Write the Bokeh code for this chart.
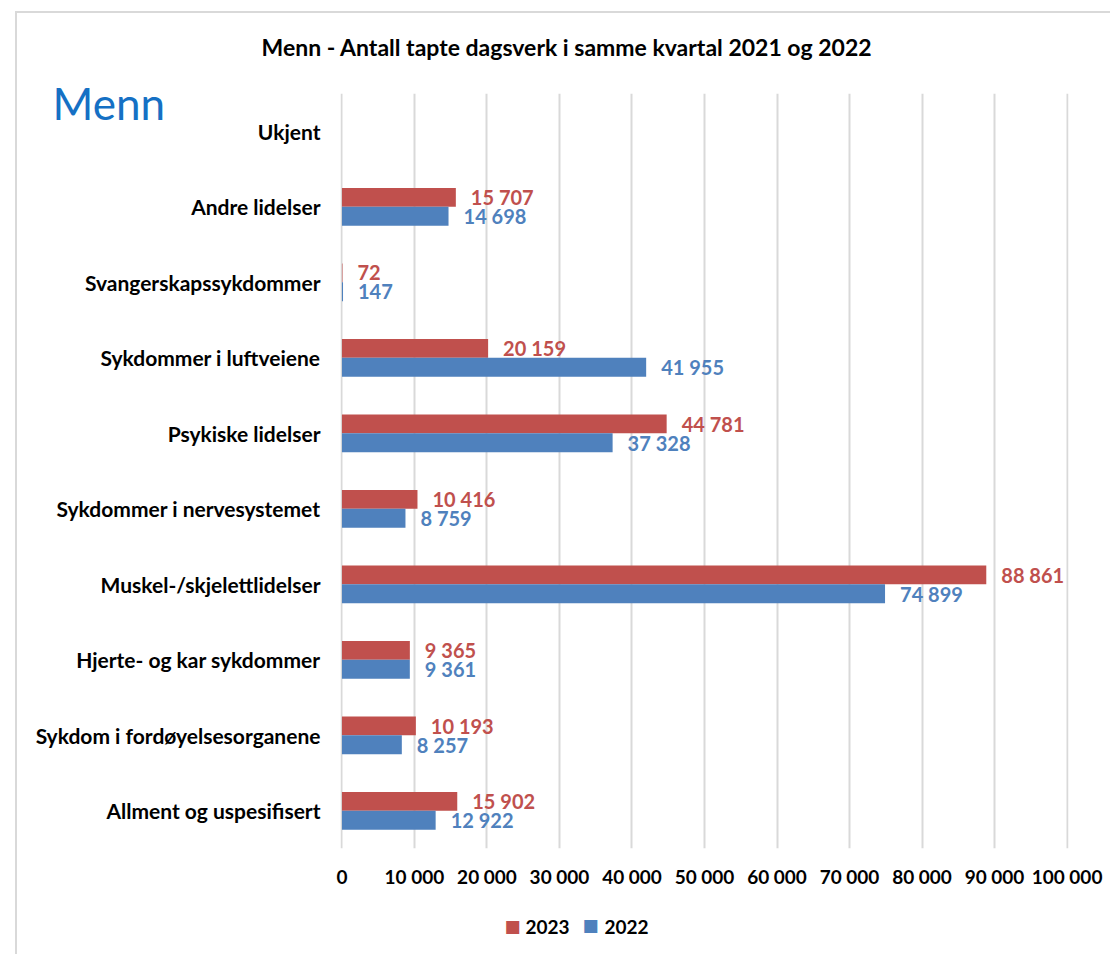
from bokeh.plotting import figure
from bokeh.models import (ColumnDataSource, FactorRange, FixedTicker, Label)
from bokeh.transform import dodge
from bokeh.core.properties import value
from bokeh.embed import file_html
from bokeh.resources import INLINE

categories = ["Ukjent", "Andre lidelser", "Svangerskapssykdommer", "Sykdommer i luftveiene",
              "Psykiske lidelser", "Sykdommer i nervesystemet", "Muskel-/skjelettlidelser",
              "Hjerte- og kar sykdommer", "Sykdom i fordøyelsesorganene", "Allment og uspesifisert"]
v2023 = [float("nan"), 15707, 72, 20159, 44781, 10416, 88861, 9365, 10193, 15902]
v2022 = [float("nan"), 14698, 147, 41955, 37328, 8759, 74899, 9361, 8257, 12922]
series = ["2023", "2022"]
x_ticks = [0, 10000, 20000, 30000, 40000, 50000, 60000, 70000, 80000, 90000, 100000]

RED = "#C0504D"
BLUE = "#4F81BD"
FONT = "Lato"


def fmt(v):
    if v != v:
        return ""
    return f"{int(v):,}".replace(",", " ")


src = ColumnDataSource(dict(
    cat=categories,
    v2023=v2023,
    v2022=v2022,
    t2023=[fmt(v) for v in v2023],
    t2022=[fmt(v) for v in v2022],
))

# canvas origin sits at page (17, 13) because of the CSS margin + border
p = figure(width=1095, height=943, output_backend="svg", toolbar_location=None,
           title=None,
           y_range=FactorRange(factors=list(reversed(categories)), range_padding=0),
           x_range=(-200, 100200),
           min_border_left=323, min_border_right=44, min_border_top=80, min_border_bottom=108)
p.styles = {"margin-left": "15px", "margin-top": "11px",
            "border-left": "2px solid #D9D9D9", "border-top": "2px solid #D9D9D9"}

r23 = p.hbar(y=dodge("cat", 0.125, range=p.y_range), right="v2023", left=0, height=0.25,
             source=src, fill_color=RED, line_color=None)
r22 = p.hbar(y=dodge("cat", -0.125, range=p.y_range), right="v2022", left=0, height=0.25,
             source=src, fill_color=BLUE, line_color=None)

p.text(x="v2023", y=dodge("cat", 0.125, range=p.y_range), text="t2023", source=src,
       x_offset=15, text_baseline="middle", text_align="left", text_color=RED,
       text_font=value(FONT), text_font_style="bold", text_font_size="20px")
p.text(x="v2022", y=dodge("cat", -0.125, range=p.y_range), text="t2022", source=src,
       x_offset=15, text_baseline="middle", text_align="left", text_color=BLUE,
       text_font=value(FONT), text_font_style="bold", text_font_size="20px")

p.outline_line_color = None
p.ygrid.grid_line_color = None
p.xgrid.grid_line_color = "#D9D9D9"
p.xgrid.grid_line_width = 2

p.xaxis.ticker = FixedTicker(ticks=x_ticks)
p.xaxis.major_label_overrides = {t: fmt(t) for t in x_ticks}
for ax in (p.xaxis, p.yaxis):
    ax.axis_line_color = None
    ax.major_tick_line_color = None
    ax.minor_tick_line_color = None
    ax.major_tick_out = 0
    ax.major_tick_in = 0
    ax.minor_tick_out = 0
    ax.major_label_text_font = FONT
    ax.major_label_text_font_style = "bold"
    ax.major_label_text_color = "#000000"
p.xaxis.major_label_text_font_size = "19px"
p.xaxis.major_label_standoff = 16
p.yaxis.major_label_text_font_size = "21px"
p.yaxis.major_label_standoff = 20

# legend: texts in the bottom panel, colour keys in the right panel
leg_text_a = Label(x=185, y=-22, x_units="screen", y_units="screen", text=series[0],
                   text_align="left", text_baseline="middle", text_font=FONT,
                   text_font_style="bold", text_font_size="19px", text_color="#000000")
p.add_layout(leg_text_a, "below")
leg_text_b = Label(x=264, y=-8, x_units="screen", y_units="screen", text=series[1],
                   text_align="left", text_baseline="middle", text_font=FONT,
                   text_font_style="bold", text_font_size="19px", text_color="#000000")
p.add_layout(leg_text_b, "below")

key_a = Label(x=-556, y=-77, x_units="screen", y_units="screen", text="\u25A0",
              text_align="center", text_baseline="middle", text_font="DejaVu Sans",
              text_font_size="17px", text_color=RED)
p.add_layout(key_a, "right")
key_b = Label(x=-494, y=-76, x_units="screen", y_units="screen", text="\u25A0",
              text_align="center", text_baseline="middle", text_font="DejaVu Sans",
              text_font_size="17px", text_color=BLUE)
p.add_layout(key_b, "right")

menn = Label(x=-288, y=-9, x_units="screen", y_units="screen", text="Menn",
             text_align="left", text_baseline="middle", text_font=FONT,
             text_font_size="44px", text_color="#1570C4")
p.add_layout(menn, "above")

title = Label(x=-79, y=-5, x_units="screen", y_units="screen",
              text="Menn - Antall tapte dagsverk i samme kvartal 2021 og 2022",
              text_align="left", text_baseline="middle", text_font=FONT,
              text_font_style="bold", text_font_size="23px", text_color="#000000")
p.add_layout(title, "above")

open("out.html", "w").write(file_html(p, INLINE))
